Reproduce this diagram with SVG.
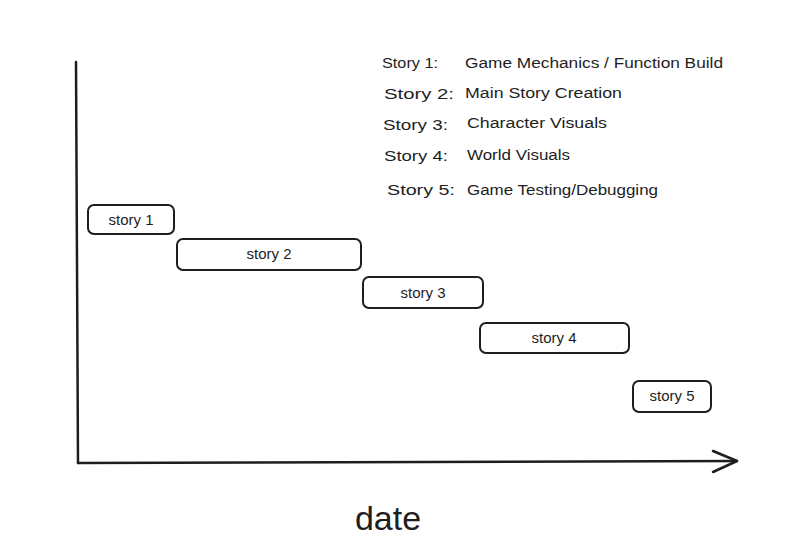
<svg xmlns="http://www.w3.org/2000/svg" width="808" height="550" viewBox="0 0 808 550">
<style>
.box{fill:#fff;stroke:#1e1e1e;stroke-width:2;}
.t{font-family:"Liberation Sans",Arial,sans-serif;font-size:14px;fill:#1e1e1e;}
.c{text-anchor:middle;font-size:15px;}
.ax{fill:none;stroke:#1e1e1e;stroke-width:2.5;stroke-linecap:round;stroke-linejoin:round;}
</style>
<rect width="808" height="550" fill="#fff"/>
<g id="connectors">
<path class="ax" d="M76 62 L78 463"/>
<path class="ax" d="M78 463 L737 461"/>
<path class="ax" d="M713 451 L737 461 L713 472"/>
</g>
<g id="legend">
<text class="t" x="382" y="68" textLength="56" lengthAdjust="spacingAndGlyphs">Story 1:</text>
<text class="t" x="465" y="68" textLength="258" lengthAdjust="spacingAndGlyphs">Game Mechanics / Function Build</text>
<text class="t" x="384" y="99" textLength="70" lengthAdjust="spacingAndGlyphs">Story 2:</text>
<text class="t" x="465" y="98" textLength="157" lengthAdjust="spacingAndGlyphs">Main Story Creation</text>
<text class="t" x="383" y="130" textLength="65" lengthAdjust="spacingAndGlyphs">Story 3:</text>
<text class="t" x="467" y="128" textLength="140" lengthAdjust="spacingAndGlyphs">Character Visuals</text>
<text class="t" x="384" y="161" textLength="64" lengthAdjust="spacingAndGlyphs">Story 4:</text>
<text class="t" x="467" y="160" textLength="103" lengthAdjust="spacingAndGlyphs">World Visuals</text>
<text class="t" x="387" y="195" textLength="68" lengthAdjust="spacingAndGlyphs">Story 5:</text>
<text class="t" x="467" y="195" textLength="191" lengthAdjust="spacingAndGlyphs">Game Testing/Debugging</text>
</g>
<g id="story1">
<rect class="box" x="88" y="205" width="86" height="29" rx="6"/>
<text class="t c" x="131" y="225">story 1</text>
</g>
<g id="story2">
<rect class="box" x="177" y="239" width="184" height="31" rx="6"/>
<text class="t c" x="269" y="259">story 2</text>
</g>
<g id="story3">
<rect class="box" x="363" y="277" width="120" height="31" rx="6"/>
<text class="t c" x="423" y="298">story 3</text>
</g>
<g id="story4">
<rect class="box" x="480" y="323" width="149" height="30" rx="6"/>
<text class="t c" x="554" y="343">story 4</text>
</g>
<g id="story5">
<rect class="box" x="633" y="381" width="78" height="31" rx="6"/>
<text class="t c" x="672" y="401">story 5</text>
</g>
<g id="axis-label">
<text class="t" x="388" y="530" style="font-size:34px;text-anchor:middle">date</text>
</g>
</svg>
